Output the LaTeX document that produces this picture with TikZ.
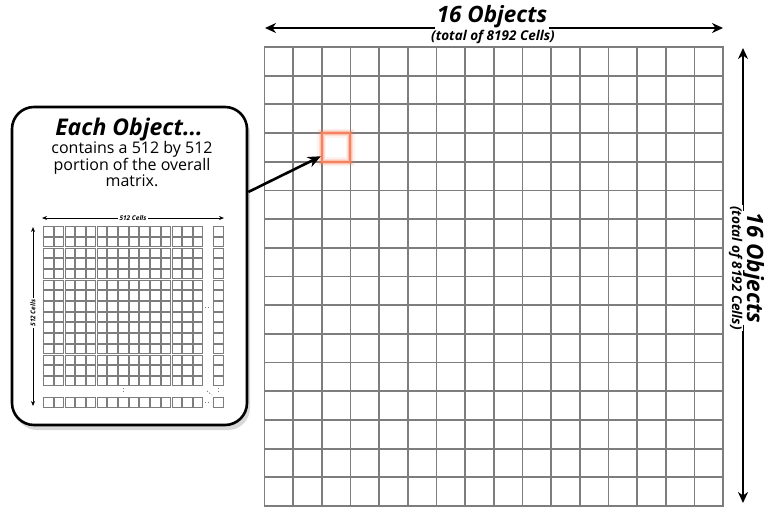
\documentclass[tikz,border=0pt]{standalone}
\usepackage{fontspec}
\setmainfont{Open Sans}
\usepackage{tikz}
\usetikzlibrary{arrows.meta,shadows}
\definecolor{gridline}{RGB}{125,125,125}
\definecolor{glow}{RGB}{244,130,95}

\tikzset{
  bigcell/.style={draw=gridline, line width=1.8pt},
  smallcell/.style={draw=gridline, line width=1pt},
  hlcell/.style={draw=glow, line width=2pt, inner sep=0pt,
    preaction={draw=glow, line width=9pt, opacity=0.1},
    preaction={draw=glow, line width=6pt, opacity=0.18},
    preaction={draw=glow, line width=4pt, opacity=0.3}},
  dimarrow/.style={{Stealth[length=11pt,width=10pt]}-{Stealth[length=11pt,width=10pt]}, line width=2.2pt},
  smallarrow/.style={{Stealth[length=5pt,width=4pt]}-{Stealth[length=5pt,width=4pt]}, line width=0.9pt},
  pointer/.style={-{Stealth[length=13pt,width=11pt]}, line width=2.6pt},
  dimlabel/.style={fill=white, inner sep=2pt, anchor=base, font=\bfseries\itshape\fontsize{22.5}{24}\selectfont},
  sublabel/.style={fill=white, inner sep=1pt, anchor=base, font=\bfseries\itshape\fontsize{13.5}{14}\selectfont},
  celllabel/.style={fill=white, inner sep=1.5pt, font=\bfseries\itshape\fontsize{6.5}{7}\selectfont},
  dots/.style={draw=gridline, dotted, line width=1pt},
  callout/.style={draw=black, line width=2.6pt, rounded corners=22pt, fill=white,
    drop shadow={shadow xshift=3pt, shadow yshift=-5pt, opacity=0.3}},
}

\begin{document}
\begin{tikzpicture}[x=1pt, y=-1pt]
		\def\cw{28.66}  % big cell width
		\def\ch{28.69}  % big cell height
		\def\sw{10.7}   % small cell size
		\def\sq{9.5}    % small square drawn inside a cell
		\useasboundingbox (0,0) rectangle (764,507);

		% --- big grid: 16 by 16 objects ---
		\foreach \i in {0,...,15}
			\foreach \j in {0,...,15}
				\draw[bigcell] (264.5+\i*\cw, 47+\j*\ch) rectangle ++(\cw,\ch);

		% --- highlighted object ---
		\node[hlcell, minimum width=\cw pt, minimum height=\ch pt] (obj) at (264.5+2.5*\cw, 47+3.5*\ch) {};

		% --- top dimension ---
		\coordinate (topL) at (265,28);
		\coordinate (topR) at (723,28);
		\draw[dimarrow] (topL) -- (topR);
		\node[dimlabel] (toptitle) at (492,22) {16 Objects};
		\node[sublabel] (topsub) at (493,40) {(total of 8192 Cells)};

		% --- right dimension ---
		\coordinate (rightT) at (743,48);
		\coordinate (rightB) at (743,503);
		\draw[dimarrow] (rightT) -- (rightB);
		\node[dimlabel, rotate=-90] (righttitle) at (747,268) {16 Objects};
		\node[sublabel, rotate=-90] (rightsub) at (732,268) {(total of 8192 Cells)};

		% --- callout ---
		\node[callout, minimum width=235pt, minimum height=318pt] (callout) at (129.5,266) {};
		\node[anchor=base, font=\bfseries\itshape\fontsize{23}{24}\selectfont] (title) at (129,135) {Each Object...};
		\node[align=center, font=\fontsize{16}{16}\selectfont] (desc) at (132,164)
			{contains a 512 by 512\\portion of the overall\\matrix.};

		% --- pointer to the highlighted object ---
		\draw[pointer] ([yshift=74pt]callout.east) -- (obj.210);

		% --- small grid: 512 by 512 cells ---
		\foreach \i in {0,...,14} {
			\foreach \j in {0,...,14}
				\draw[smallcell] (43.6+\i*\sw, 226.6+\j*\sw) rectangle ++(\sq,\sq);
			\draw[smallcell] (213.6, 226.6+\i*\sw) rectangle ++(\sq,\sq);
			\draw[smallcell] (43.6+\i*\sw, 397.6) rectangle ++(\sq,\sq);
		}
		\draw[smallcell] (213.6,397.6) rectangle ++(\sq,\sq);

		% ellipses
		\draw[dots] (123,388) -- (123,394);
		\draw[dots] (205,307) -- (211,307);
		\draw[dots] (218,388) -- (218,394);
		\draw[dots] (205,402) -- (211,402);
		\draw[dots] (207,391) -- (212,395);

		% --- small dimensions ---
		\coordinate (smallL) at (42,218);
		\coordinate (smallR) at (224,218);
		\draw[smallarrow] (smallL) -- (smallR);
		\node[celllabel] (smalltop) at (133,218) {512 Cells};

		\coordinate (smallT) at (33,227);
		\coordinate (smallB) at (33,406);
		\draw[smallarrow] (smallT) -- (smallB);
		\node[celllabel, rotate=90] (smallleft) at (33,313) {512 Cells};
\end{tikzpicture}
\end{document}
